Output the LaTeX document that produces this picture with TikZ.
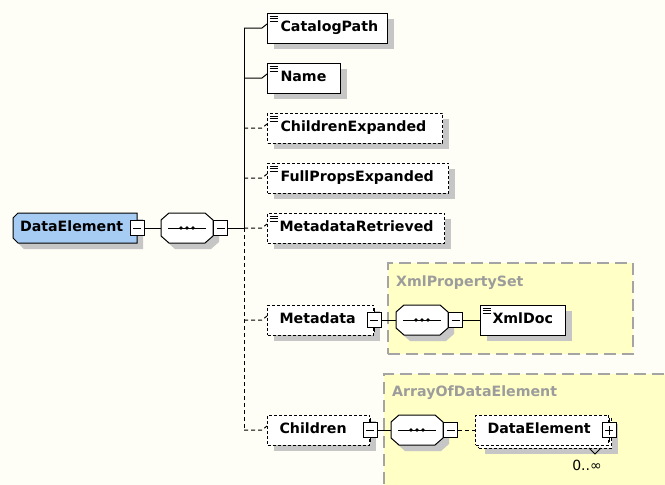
\documentclass[tikz,border=0pt]{standalone}
\usepackage{fontspec}
\setmainfont{DejaVu Sans}
\usetikzlibrary{shadows}
\definecolor{bg}{HTML}{FEFEF6}
\definecolor{rootblue}{HTML}{A6CCF4}
\definecolor{grpyellow}{HTML}{FFFFC6}
\definecolor{grpborder}{HTML}{A4A4A4}
\definecolor{grplabel}{HTML}{9C9C9C}
\definecolor{shadowgray}{HTML}{C6C6C6}
\newcommand{\bt}[3]{\makebox[#1pt][l]{\hspace*{#2pt}#3\vphantom{Cg}}}
\tikzset{
  every node/.style={font=\fontsize{14.2}{17}\selectfont\bfseries},
  outline/.style={draw=black, line width=1pt},
  conn/.style={draw=black, line width=1pt},
  optconn/.style={conn, dash pattern=on 4pt off 3pt},
  shd/.style={drop shadow={shadow xshift=6pt, shadow yshift=-6pt, fill=shadowgray, opacity=1}},
  frame/.style={inner sep=0pt, draw=none},
  elembase/.style={outline, fill=white, inner sep=0pt, minimum height=30pt, anchor=west},
  elem/.style={elembase, shd},
  optbase/.style={elembase, dash pattern=on 3pt off 2pt},
  optelem/.style={optbase, shd},
  leaf/.style={path picture={
      \foreach \d in {3pt,5.5pt,8pt}{\draw[line width=0.7pt, solid] ([xshift=2pt, yshift=-\d]path picture bounding box.north west) -- ++(8pt,0);}}},
  minus/.style={outline, solid, fill=white, inner sep=0pt, minimum width=14pt, minimum height=15pt,
    path picture={\draw[line width=1pt] ([xshift=3pt]path picture bounding box.west) -- ([xshift=-3pt]path picture bounding box.east);}},
  plus/.style={outline, solid, fill=white, inner sep=0pt, minimum width=14pt, minimum height=15pt,
    path picture={\draw[line width=1pt] ([xshift=3pt]path picture bounding box.west) -- ([xshift=-3pt]path picture bounding box.east);
      \draw[line width=1pt] ([yshift=-3pt]path picture bounding box.north) -- ([yshift=3pt]path picture bounding box.south);}},
  grp/.style={draw=grpborder, fill=grpyellow, line width=1.5pt, dash pattern=on 12pt off 6pt, anchor=north west, inner sep=0pt},
  grplbl/.style={text=grplabel, anchor=west, inner sep=0pt},
}
\newcommand{\seqat}[3]{%
  \begin{scope}[shift={(#2,#3)}]
    \fill[shadowgray] (-12,-9) -- (24,-9) -- (32,-2) -- (32,14) -- (24,21) -- (-12,21) -- (-20,14) -- (-20,-2) -- cycle;
    \draw[outline, fill=white] (-18,-15) -- (18,-15) -- (26,-8) -- (26,8) -- (18,15) -- (-18,15) -- (-26,8) -- (-26,-8) -- cycle;
    \draw[line width=1pt] (-19,0) -- (19,0);
    \foreach \dx in {-6,0,6} \fill (\dx,0) circle (1.9pt);
  \end{scope}
  \node[frame, minimum width=52pt, minimum height=30pt] (#1) at (#2,#3) {};
}
\begin{document}
\begin{tikzpicture}[x=1pt,y=-1pt]
\fill[bg] (0,0) rectangle (665,485);
\useasboundingbox (0,0) rectangle (665,485);
\clip (0,0) rectangle (665,485);

% groups
\node[grp, minimum width=245pt, minimum height=91pt] (xps) at (387,262) {};
\node[grplbl] (xpsl) at (396,283) {XmlPropertySet};
\node[grp, minimum width=300pt, minimum height=130pt] (aode) at (383,373) {};
\node[grplbl] (aodel) at (392,393) {ArrayOfDataElement};

% root element
\begin{scope}[shift={(75,228)}]
  \fill[shadowgray] (-51,-9) -- (68,-9) -- (68,21) -- (-51,21) -- (-56,16) -- (-56,-4) -- cycle;
  \draw[outline, fill=rootblue] (-57,-15) -- (62,-15) -- (62,15) -- (-57,15) -- (-62,10) -- (-62,-10) -- cycle;
\end{scope}
\node[frame, minimum height=30pt] (root) at (75,228) {\bt{124}{7}{DataElement}};
\node[minus] (rootm) at (root.east) {};

% main sequence
\seqat{s1}{187}{228}
\node[minus, anchor=west] (s1m) at (s1.east) {};

% trunk
\coordinate (b1) at (244,28);
\coordinate (b2) at (244,78);
\coordinate (b3) at (244,128);
\coordinate (b4) at (244,178);
\coordinate (tj) at (244,228);
\coordinate (b6) at (244,320);
\coordinate (b7) at (244,430);

% children elements
\node[elem, leaf] (catalog) at (267,28) {\bt{120}{13}{CatalogPath}};
\node[elem, leaf] (name) at (267,78) {\bt{73}{13}{Name}};
\node[optelem, leaf] (chexp) at (267,128) {\bt{175}{13}{ChildrenExpanded}};
\node[optelem, leaf] (fpexp) at (267,178) {\bt{181}{13}{FullPropsExpanded}};
\node[optelem, leaf] (mdret) at (267,228) {\bt{177}{12}{MetadataRetrieved}};
\node[optelem] (meta) at (267,320) {\bt{106}{12}{Metadata}};
\node[optelem] (children) at (267,430) {\bt{102}{12}{Children}};

% connectors root
\draw[conn] (rootm.east) -- (s1.west);
\draw[conn] (s1m.east) -- (tj);
\draw[conn] (b1) -- (tj);
\draw[optconn] (tj) -- (b7);
\draw[conn] (b1) -- ++(18,0) -- ([yshift=4pt]catalog.west);
\draw[conn] (b2) -- ++(18,0) -- ([yshift=4pt]name.west);
\draw[optconn] (b3) -- ++(18,0) -- ([yshift=4pt]chexp.west);
\draw[optconn] (b4) -- ++(18,0) -- ([yshift=4pt]fpexp.west);
\draw[optconn] (tj) -- ++(18,0) -- ([yshift=4pt]mdret.west);
\draw[optconn] (b6) -- ++(18,0) -- ([yshift=4pt]meta.west);
\draw[optconn] (b7) -- ++(18,0) -- ([yshift=4pt]children.west);

% Metadata content
\node[minus] (metam) at (meta.east) {};
\draw[conn] (metam.north) -- ++(0,-4);
\draw[conn] (metam.south) -- ++(0,4);
\seqat{s2}{422}{320}
\node[minus, anchor=west] (s2m) at (s2.east) {};
\node[elem, leaf] (xmldoc) at (480,320) {\bt{85}{12}{XmlDoc}};
\draw[conn] (metam.east) -- (s2.west);
\draw[conn] (s2m.east) -- (xmldoc.west);

% Children content
\node[minus] (childm) at (children.east) {};
\draw[conn] (childm.north) -- ++(0,-4);
\draw[conn] (childm.south) -- ++(0,4);
\seqat{s3}{417}{430}
\node[minus, anchor=west] (s3m) at (s3.east) {};
\node[optelem] (deback) at (478,433) {\bt{133}{12}{\phantom{DataElement}}};
\node[optbase] (defront) at (475,430) {\bt{133}{12}{DataElement}};
\node[plus] (deplus) at (defront.east) {};
\draw[conn] (deplus.north) -- ++(0,-4);
\draw[conn] (deplus.south) -- ++(0,4);
\draw[conn] (childm.east) -- (s3.west);
\draw[optconn] (s3m.east) -- (defront.west);
\coordinate (vl) at (589,448);
\coordinate (vr) at (601,448);
\draw[line width=0.8pt] (vl) -- (595,454) -- (vr);
\node[font=\fontsize{14}{16}\selectfont, inner sep=0pt] (mult) at (587,465) {0..∞};
\end{tikzpicture}
\end{document}
